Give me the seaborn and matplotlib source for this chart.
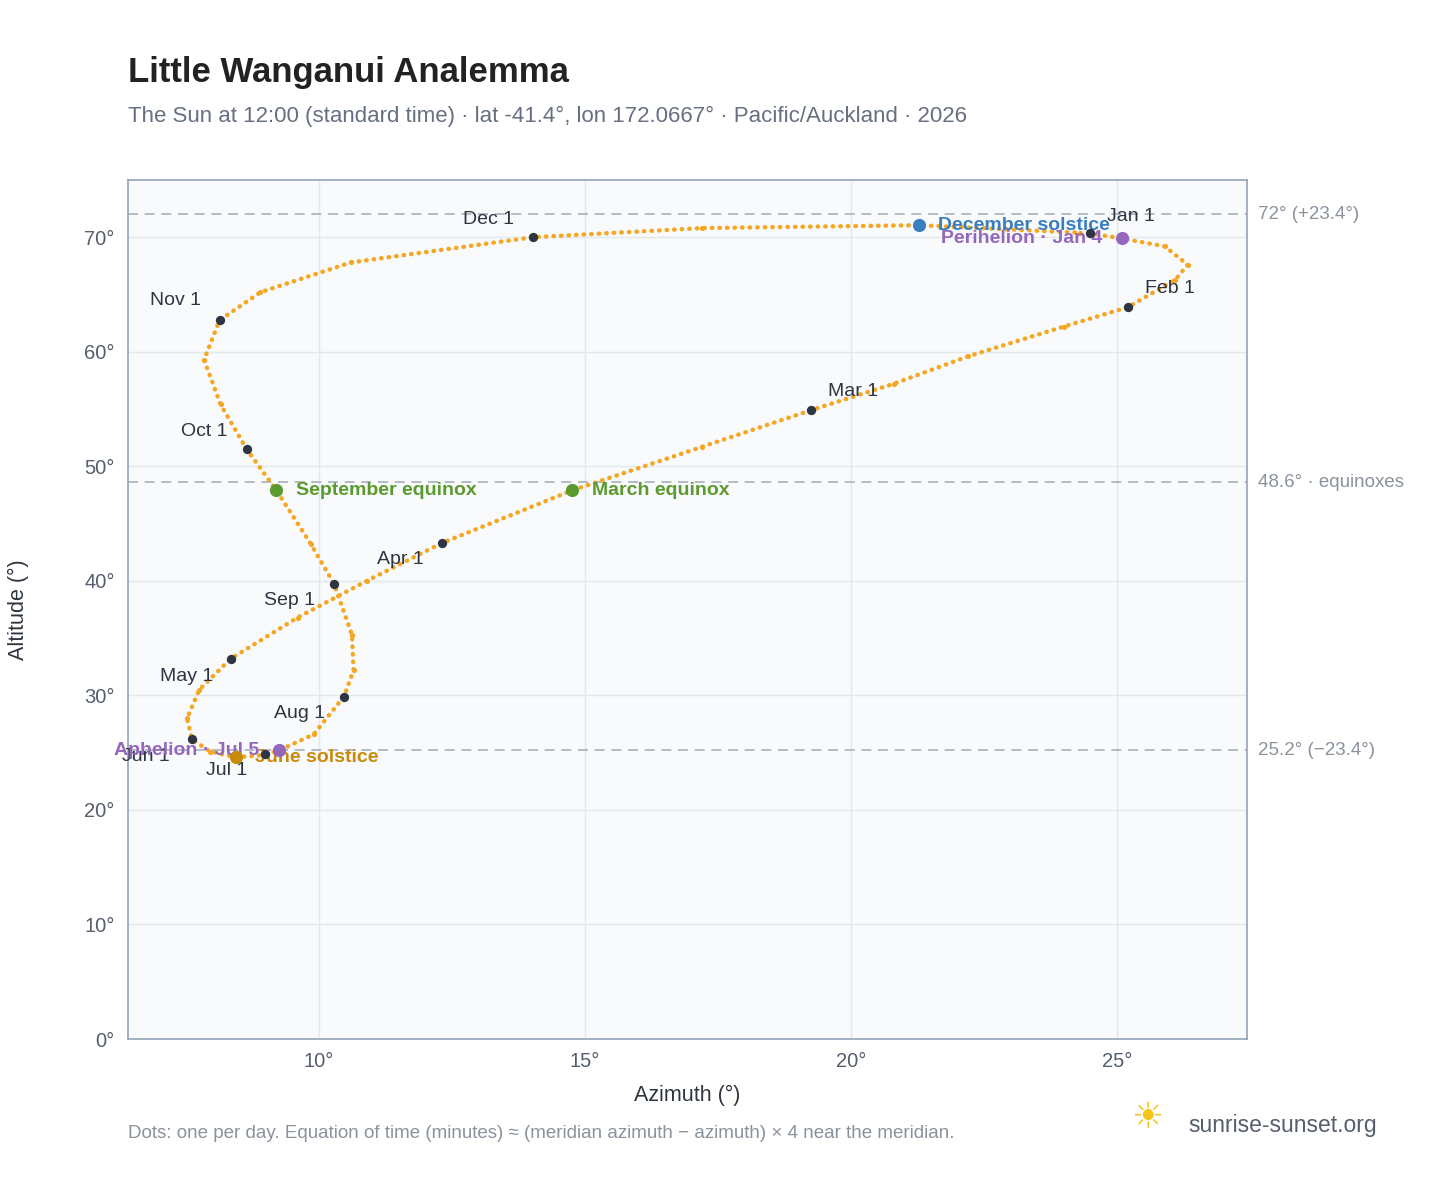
import matplotlib
matplotlib.use("Agg")
import matplotlib.pyplot as plt
import seaborn as sns
import pandas as pd

# Sun position at 12:00 (day of year, azimuth, altitude)
days = [1, 4, 10, 20, 25, 32, 39, 46, 53, 60, 69, 79, 91, 100, 110, 121, 130, 140,
        152, 161, 172, 182, 186, 196, 213, 222, 232, 244, 253, 266, 274, 283, 293,
        305, 314, 324, 335, 344, 355, 365]
azimuth = [24.49, 25.09, 25.9, 26.33, 26.1, 25.21, 24.0, 22.2, 20.8, 19.25, 17.2, 14.76,
           12.31, 10.9, 9.6, 8.34, 7.75, 7.52, 7.61, 7.95, 8.44, 8.98, 9.25, 9.9, 10.47,
           10.65, 10.62, 10.28, 9.85, 9.2, 8.64, 8.15, 7.84, 8.13, 8.9, 10.6, 14.02,
           17.2, 21.27, 24.3]
altitude = [70.35, 69.9, 69.2, 67.6, 66.3, 63.9, 62.2, 59.6, 57.2, 54.9, 51.7, 47.9,
            43.3, 40.0, 36.8, 33.2, 30.5, 28.0, 26.2, 25.1, 24.6, 24.8, 25.2, 26.6, 29.9,
            32.2, 35.3, 39.75, 43.2, 47.9, 51.5, 55.4, 59.3, 62.75, 65.2, 67.8, 70.0,
            70.8, 71.05, 70.4]

month_labels = ["Jan 1", "Feb 1", "Mar 1", "Apr 1", "May 1", "Jun 1",
                "Jul 1", "Aug 1", "Sep 1", "Oct 1", "Nov 1", "Dec 1"]
month_az = [24.49, 25.21, 19.25, 12.31, 8.34, 7.61, 8.98, 10.47, 10.28, 8.64, 8.13, 14.02]
month_alt = [70.35, 63.9, 54.9, 43.3, 33.2, 26.2, 24.9, 29.9, 39.75, 51.5, 62.75, 70.0]

event_labels = ["December solstice", "Perihelion · Jan 4", "June solstice",
                "Aphelion · Jul 5", "March equinox", "September equinox"]
event_az = [21.27, 25.09, 8.44, 9.25, 14.76, 9.2]
event_alt = [71.05, 69.9, 24.6, 25.2, 47.9, 47.9]
event_colors = ["#3b7ec0", "#9467bd", "#c98a0a", "#9467bd", "#5a9a2e", "#5a9a2e"]

ref_alts = [72.0, 48.6, 25.2]
ref_labels = ["72° (+23.4°)", "48.6° · equinoxes", "25.2° (−23.4°)"]

df = pd.DataFrame({"day": days, "az": azimuth, "alt": altitude})

sns.set_theme(style="whitegrid")
plt.rcParams["font.family"] = ["Liberation Sans", "DejaVu Sans"]

fig = plt.figure(figsize=(14.48, 11.88), dpi=100)
ax = fig.add_axes([0.0884, 0.1254, 0.7726, 0.7231])
ax.set_facecolor("#f8fafc")
for s in ax.spines.values():
    s.set_color("#94a3b8")
    s.set_linewidth(1.2)
ax.grid(color="#e2e8f0", linewidth=1)

ax.set_xlim(6.41, 27.44)
ax.set_ylim(0, 75)
ax.set_xticks([10, 15, 20, 25])
ax.set_xticklabels(["10°", "15°", "20°", "25°"])
ax.set_yticks(range(0, 71, 10))
ax.set_yticklabels([f"{v}°" for v in range(0, 71, 10)])
ax.tick_params(colors="#555f6d", labelsize=14.5)

for y, lab in zip(ref_alts, ref_labels):
    ax.axhline(y, color="#a8b0bb", linestyle=(0, (6, 4)), linewidth=1.2, zorder=1)
    ax.text(1.01, y, lab, transform=ax.get_yaxis_transform(), color="#8a929c",
            fontsize=13.5, va="center", ha="left")

# dotted path through the read positions, mimicking one dot per day
ax.plot(df["az"], df["alt"], color="#f5a623", linewidth=3.2, linestyle=(0, (0.1, 1.6)),
        dash_capstyle="round", zorder=2)
sns.scatterplot(data=df, x="az", y="alt", color="#f5a623", s=14, linewidth=0, ax=ax, zorder=3)

sns.scatterplot(x=month_az, y=month_alt, color="#2d3540", s=45, linewidth=0, ax=ax, zorder=4)
# label offsets in pixels (dx right, dy up)
offsets = {"Jan 1": (17, 17), "Feb 1": (17, 19), "Mar 1": (17, 19), "Apr 1": (-65, -16),
           "May 1": (-71, -18), "Jun 1": (-70, -18), "Jul 1": (-59, -17), "Aug 1": (-70, -17),
           "Sep 1": (-70, -17), "Oct 1": (-66, 18), "Nov 1": (-70, 20), "Dec 1": (-70, 18)}
for lab, x, y in zip(month_labels, month_az, month_alt):
    dx, dy = offsets[lab]
    ax.annotate(lab, (x, y), xytext=(dx * 0.72, dy * 0.72), textcoords="offset points",
                fontsize=14, color="#2d3540", ha="left", va="center")

for lab, x, y, c in zip(event_labels, event_az, event_alt, event_colors):
    sns.scatterplot(x=[x], y=[y], color=c, s=90, linewidth=0, ax=ax, zorder=5)
    if lab.startswith("Perihelion") or lab.startswith("Aphelion"):
        ax.annotate(lab, (x, y), xytext=(-14, 0), textcoords="offset points", ha="right",
                    va="center", fontsize=14, fontweight="bold", color=c)
    else:
        ax.annotate(lab, (x, y), xytext=(14, 0), textcoords="offset points", ha="left",
                    va="center", fontsize=14, fontweight="bold", color=c)

ax.set_xlabel("Azimuth (°)", fontsize=15.5, color="#2d3540", labelpad=10)
ax.set_ylabel("Altitude (°)", fontsize=15.5, color="#2d3540", labelpad=40)

fig.text(0.0884, 0.939, "Little Wanganui Analemma", fontsize=25, fontweight="bold",
         color="#222222", va="center")
fig.text(0.0884, 0.902, "The Sun at 12:00 (standard time) · lat -41.4°, lon 172.0667° · "
         "Pacific/Auckland · 2026", fontsize=16, color="#667080", va="center")
fig.text(0.0884, 0.046, "Dots: one per day. Equation of time (minutes) ≈ (meridian azimuth − "
         "azimuth) × 4 near the meridian.", fontsize=13.5, color="#8a929c", va="center")
fig.text(0.951, 0.053, "sunrise-sunset.org", fontsize=16.5, color="#555f6d", ha="right",
         va="center")
fig.text(0.792, 0.058, "☀", fontsize=26, color="#f5c518", ha="center", va="center")

fig.savefig("out.png", dpi=100)
